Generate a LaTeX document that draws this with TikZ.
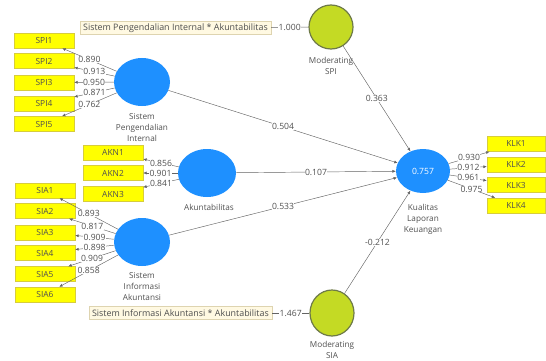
\documentclass[tikz,border=0pt]{standalone}
\usepackage{fontspec}
\setmainfont{Open Sans}
\usetikzlibrary{shapes.geometric,arrows.meta}
\definecolor{plsblue}{RGB}{30,144,255}
\definecolor{modfill}{RGB}{196,218,36}
\definecolor{modborder}{RGB}{110,122,72}
\definecolor{indfill}{RGB}{255,255,0}
\definecolor{indborder}{RGB}{215,205,60}
\definecolor{intfill}{RGB}{255,249,226}
\definecolor{intborder}{RGB}{222,212,176}
\definecolor{txtgray}{RGB}{80,80,80}
\definecolor{linegray}{RGB}{100,100,100}
\begin{document}
\begin{tikzpicture}[x=1pt,y=-1pt,
  ind/.style={draw=indborder,line width=0.4pt,fill=indfill,minimum width=60,minimum height=15,inner sep=0,text=txtgray,font=\fontsize{8.4}{9}\selectfont},
  lv/.style={ellipse,fill=plsblue,inner sep=0},
  modlv/.style={ellipse,draw=modborder,line width=1.2pt,fill=modfill,inner sep=0,minimum width=44,minimum height=44},
  intbox/.style={draw=intborder,line width=0.4pt,fill=intfill,inner xsep=3,inner ysep=0,minimum height=13,text=txtgray,font=\fontsize{8.9}{9}\selectfont},
  lvlab/.style={align=center,text=txtgray,font=\fontsize{8.2}{11}\selectfont,inner sep=0},
  lbl/.style={fill=white,inner sep=0.3,text=txtgray,font=\fontsize{8.6}{9}\selectfont},
  conn/.style={draw=linegray,line width=0.45pt},
  arr/.style={conn,-{Latex[length=3.4pt,width=3pt]}}
]
\useasboundingbox (0,0) rectangle (546,361);

% latent variables
\node[lv,minimum width=56,minimum height=48] (SPI) at (142,82) {};
\node[lv,minimum width=58,minimum height=48] (AKN) at (207,173) {};
\node[lv,minimum width=56,minimum height=48] (SIA) at (142,242) {};
\node[lv,minimum width=54,minimum height=44,text=white,font=\fontsize{8.6}{9}\selectfont] (KLK) at (423,171) {0.757};
\node[modlv] (MSPI) at (331,27) {};
\node[modlv,minimum height=46] (MSIA) at (332,313) {};

% latent labels
\node[lvlab] (SPIlab) at (142,127.5) {Sistem\\Pengendalian\\Internal};
\node[lvlab] (AKNlab) at (209,207) {Akuntabilitas};
\node[lvlab] (SIAlab) at (142,286.5) {Sistem\\Informasi\\Akuntansi};
\node[lvlab] (KLKlab) at (423,219) {Kualitas\\Laporan\\Keuangan};
\node[lvlab] (MSPIlab) at (331,66) {Moderating\\SPI};
\node[lvlab] (MSIAlab) at (332,349.5) {Moderating\\SIA};

% indicators
\node[ind] (SPI1) at (44,40.5) {SPI1};
\node[ind] (SPI2) at (44,61) {SPI2};
\node[ind] (SPI3) at (44,82.5) {SPI3};
\node[ind] (SPI4) at (44,103.5) {SPI4};
\node[ind] (SPI5) at (44,124) {SPI5};

\node[ind] (AKN1) at (113,152.5) {AKN1};
\node[ind] (AKN2) at (113,173) {AKN2};
\node[ind] (AKN3) at (113,194) {AKN3};

\node[ind] (SIA1) at (45,190.5) {SIA1};
\node[ind] (SIA2) at (45,211) {SIA2};
\node[ind] (SIA3) at (45,232.5) {SIA3};
\node[ind] (SIA4) at (45,253) {SIA4};
\node[ind] (SIA5) at (45,274) {SIA5};
\node[ind] (SIA6) at (45,294.5) {SIA6};

\node[ind,minimum width=58] (KLK1) at (516,144) {KLK1};
\node[ind,minimum width=58] (KLK2) at (516,164.5) {KLK2};
\node[ind,minimum width=58] (KLK3) at (516,185) {KLK3};
\node[ind,minimum width=58] (KLK4) at (516,205.5) {KLK4};

% interaction indicators
\node[intbox,anchor=east] (INT1) at (271,28) {Sistem Pengendalian Internal * Akuntabilitas};
\node[intbox,anchor=east] (INT2) at (272,313) {Sistem Informasi Akuntansi * Akuntabilitas};

% outer loadings
\draw[arr] (SPI) -- node[lbl]{0.890} (SPI1);
\draw[arr] (SPI) -- node[lbl]{0.913} (SPI2);
\draw[arr] (SPI) -- node[lbl]{0.950} (SPI3);
\draw[arr] (SPI) -- node[lbl]{0.871} (SPI4);
\draw[arr] (SPI) -- node[lbl]{0.762} (SPI5);

\draw[arr] (AKN) -- node[lbl]{0.856} (AKN1);
\draw[arr] (AKN) -- node[lbl]{0.901} (AKN2);
\draw[arr] (AKN) -- node[lbl]{0.841} (AKN3);

\draw[arr] (SIA) -- node[lbl]{0.893} (SIA1);
\draw[arr] (SIA) -- node[lbl]{0.817} (SIA2);
\draw[arr] (SIA) -- node[lbl]{0.909} (SIA3);
\draw[arr] (SIA) -- node[lbl]{0.898} (SIA4);
\draw[arr] (SIA) -- node[lbl]{0.909} (SIA5);
\draw[arr] (SIA) -- node[lbl]{0.858} (SIA6);

\draw[arr] (KLK) -- node[lbl]{0.930} (KLK1);
\draw[arr] (KLK) -- node[lbl]{0.912} (KLK2);
\draw[arr] (KLK) -- node[lbl]{0.961} (KLK3);
\draw[arr] (KLK) -- node[lbl]{0.975} (KLK4);

\draw[conn] (MSPI) -- node[lbl]{1.000} (INT1);
\draw[conn] (MSIA) -- node[lbl]{1.467} (INT2);

% structural paths
\draw[arr] (SPI) -- node[lbl]{0.504} (KLK);
\draw[arr] (AKN) -- node[lbl]{0.107} (KLK);
\draw[arr] (SIA) -- node[lbl]{0.533} (KLK);
\draw[arr] (MSPI) -- node[lbl]{0.363} (KLK);
\draw[arr] (MSIA) -- node[lbl]{-0.212} (KLK);
\end{tikzpicture}
\end{document}
